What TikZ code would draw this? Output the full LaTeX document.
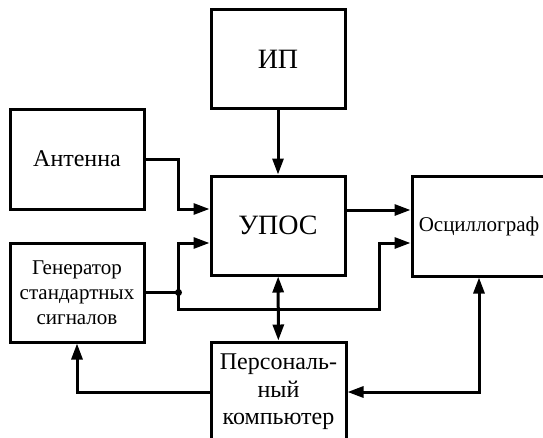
\documentclass[tikz,border=0pt]{standalone}
\usepackage{fontspec}
\setmainfont{Liberation Serif}
\usetikzlibrary{arrows.meta}

\begin{document}
\begin{tikzpicture}[x=1pt, y=-1pt,
    block/.style={draw, line width=3pt, minimum width=134pt, minimum height=99pt, inner sep=0pt, align=center},
    link/.style={line width=3pt, -{Triangle[length=16pt,width=11pt]}},
    duplex/.style={line width=3pt, {Triangle[length=16pt,width=11pt]}-{Triangle[length=16pt,width=11pt]}}]

    % Page frame
    \useasboundingbox (0,0) rectangle (543,437);
    \clip (0,0) rectangle (543,437);

    % Blocks
    \node[block, font=\fontsize{28}{30}\selectfont] (ip) at (278,59) {ИП};
    \node[block, font=\fontsize{28}{30}\selectfont] (upos) at (278,225.5) {УПОС};
    \node[block, minimum height=100pt, font=\fontsize{24}{27}\selectfont] (ant) at (77,159) {Антенна};
    \node[block, font=\fontsize{21}{25}\selectfont] (gen) at (77,292.5) {Генератор\\стандартных\\сигналов};
    \node[block, minimum height=100pt, font=\fontsize{21}{25}\selectfont] (osc) at (479,226) {Осциллограф};
    \node[block, minimum width=135pt, minimum height=100pt, font=\fontsize{24}{27.5}\selectfont] (pc) at (278.5,392) {Персональ-\\ный\\компьютер};

    % Input points
    \coordinate (antIn) at ([yshift=16.5pt]upos.west);
    \coordinate (genIn) at ([yshift=-17.5pt]upos.west);
    \coordinate (oscIn) at ([yshift=16pt]osc.west);
    \coordinate (genOscIn) at ([yshift=-17pt]osc.west);

    % Connections
    \draw[link] (ip) -- (upos);
    \draw[link] (ant.east) -- ++(33,0) |- (antIn);
    \draw[link] (gen.east) -- ++(33,0) coordinate (split) |- (genIn);
    \draw[link] (split) -- ++(0,17) -- ++(201,0) |- (genOscIn);
    \fill (split) circle (3.5pt);
    \draw[link] (upos.east |- oscIn) -- (oscIn);
    \draw[duplex] (upos) -- (pc);
    \draw[duplex] (osc.south) |- (pc.east);
    \draw[link] (pc.west) -| (gen.south);

\end{tikzpicture}
\end{document}
